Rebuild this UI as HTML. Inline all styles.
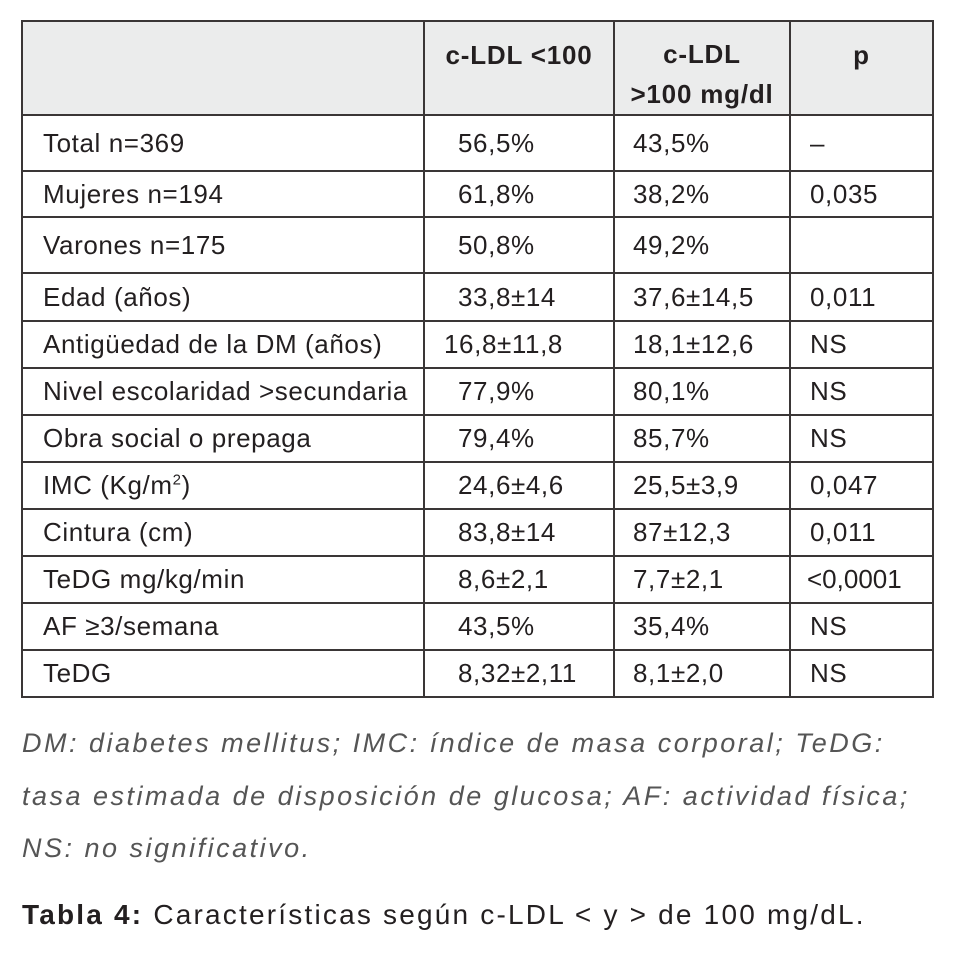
<!DOCTYPE html>
<html><head><meta charset="utf-8"><style>
body{margin:0;width:957px;height:966px;background:#fff;position:relative;font-family:"Liberation Sans",sans-serif;color:#231f20;overflow:hidden}
table{position:absolute;left:21px;top:20px;border-collapse:collapse;table-layout:fixed;font-size:26px;letter-spacing:0.6px}
td,th{border:2px solid #3a3636;padding:0;vertical-align:middle;white-space:nowrap;overflow:hidden}
th{background:#ebecec;font-weight:bold;font-size:26px;letter-spacing:0.8px;vertical-align:top;padding-top:12px;line-height:42px;text-align:center}
td.l{padding-left:20px}
td.v{padding-left:33px}
td.w{padding-left:18px}
td.p{padding-left:19px}
.cap{position:absolute;left:22px;font-style:italic;font-size:27px;color:#555;letter-spacing:2.5px;white-space:nowrap}
.title{position:absolute;left:22px;top:899px;font-size:28px;color:#231f20;letter-spacing:2.2px;white-space:nowrap}
</style></head><body>
<table>
<colgroup><col style="width:402px"><col style="width:190px"><col style="width:176px"><col style="width:143px"></colgroup>
<tr style="height:93px"><th></th><th>c-LDL &lt;100</th><th style="line-height:40px">c-LDL<br>&gt;100 mg/dl</th><th>p</th></tr>
<tr style="height:56px"><td class="l">Total n=369</td><td class="v">56,5%</td><td class="w">43,5%</td><td class="p">–</td></tr>
<tr style="height:46px"><td class="l">Mujeres n=194</td><td class="v">61,8%</td><td class="w">38,2%</td><td class="p">0,035</td></tr>
<tr style="height:56px"><td class="l">Varones n=175</td><td class="v">50,8%</td><td class="w">49,2%</td><td class="p"></td></tr>
<tr style="height:48px"><td class="l">Edad (años)</td><td class="v">33,8±14</td><td class="w">37,6±14,5</td><td class="p">0,011</td></tr>
<tr style="height:47px"><td class="l">Antigüedad de la DM (años)</td><td class="v" style="padding-left:19px">16,8±11,8</td><td class="w">18,1±12,6</td><td class="p">NS</td></tr>
<tr style="height:47px"><td class="l">Nivel escolaridad &gt;secundaria</td><td class="v">77,9%</td><td class="w">80,1%</td><td class="p">NS</td></tr>
<tr style="height:47px"><td class="l">Obra social o prepaga</td><td class="v">79,4%</td><td class="w">85,7%</td><td class="p">NS</td></tr>
<tr style="height:47px"><td class="l">IMC (Kg/m<sup style="font-size:15px">2</sup>)</td><td class="v">24,6±4,6</td><td class="w">25,5±3,9</td><td class="p">0,047</td></tr>
<tr style="height:47px"><td class="l">Cintura (cm)</td><td class="v">83,8±14</td><td class="w">87±12,3</td><td class="p">0,011</td></tr>
<tr style="height:47px"><td class="l">TeDG mg/kg/min</td><td class="v">8,6±2,1</td><td class="w">7,7±2,1</td><td class="p" style="padding-left:16px;letter-spacing:0">&lt;0,0001</td></tr>
<tr style="height:47px"><td class="l">AF ≥3/semana</td><td class="v">43,5%</td><td class="w">35,4%</td><td class="p">NS</td></tr>
<tr style="height:47px"><td class="l">TeDG</td><td class="v">8,32±2,11</td><td class="w">8,1±2,0</td><td class="p">NS</td></tr>
</table>
<div class="cap" style="top:728px">DM: diabetes mellitus; IMC: índice de masa corporal; TeDG:</div>
<div class="cap" style="top:781px">tasa estimada de disposición de glucosa; AF: actividad física;</div>
<div class="cap" style="top:833px">NS: no significativo.</div>
<div class="title"><b>Tabla 4:</b> Características según c-LDL &lt; y &gt; de 100 mg/dL.</div>
</body></html>
